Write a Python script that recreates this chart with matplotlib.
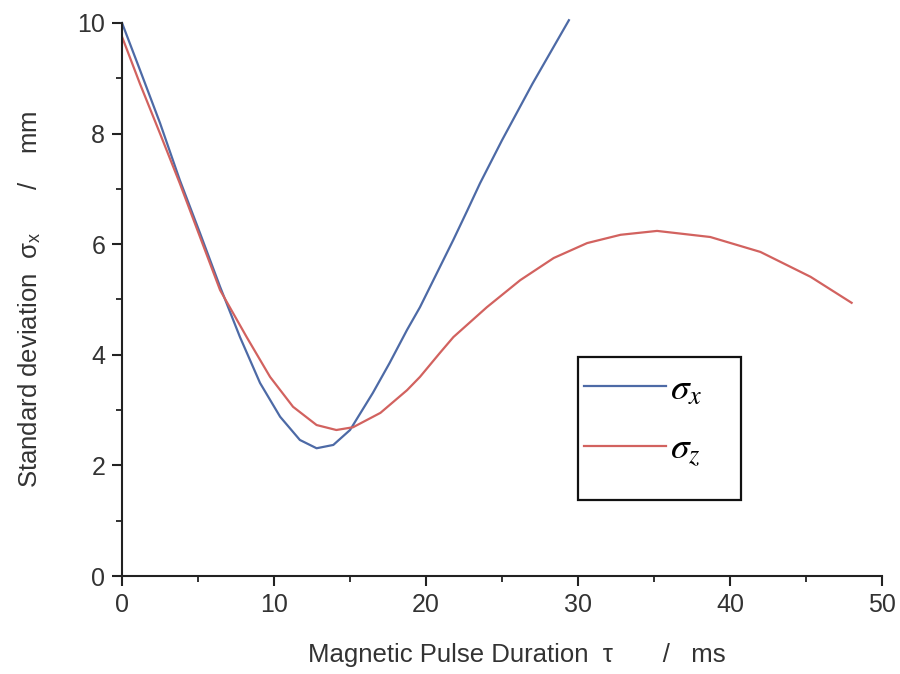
import matplotlib
matplotlib.use("Agg")
import matplotlib.pyplot as plt
from matplotlib.ticker import MultipleLocator
from matplotlib.patches import Rectangle

plt.rcParams['font.family'] = ['Liberation Sans', 'DejaVu Sans']
plt.rcParams['mathtext.fontset'] = 'stix'

# sigma_x (blue)
tau_x = [0.0, 1.18, 2.5, 3.8, 5.13, 6.45, 7.76, 9.08, 10.4, 11.7, 12.8, 13.9, 15.0, 16.5, 17.6,
         18.75, 19.6, 21.8, 22.7, 23.55, 25.0, 27.0, 29.4]
sig_x = [10.0, 9.15, 8.19, 7.16, 6.2, 5.23, 4.32, 3.49, 2.88, 2.46, 2.31, 2.37, 2.64, 3.31, 3.85,
         4.45, 4.86, 6.08, 6.6, 7.1, 7.88, 8.9, 10.05]

# sigma_z (red)
tau_z = [0.0, 1.18, 2.5, 3.8, 5.13, 6.45, 8.2, 9.74, 11.25, 12.8, 14.1, 15.2, 17.0, 18.75, 19.6,
         20.9, 21.8, 24.0, 26.2, 28.4, 30.6, 32.8, 35.2, 38.7, 42.0, 45.3, 48.0]
sig_z = [9.75, 8.9, 8.0, 7.1, 6.13, 5.17, 4.32, 3.6, 3.06, 2.73, 2.64, 2.69, 2.95, 3.36, 3.6,
         4.03, 4.32, 4.86, 5.35, 5.75, 6.02, 6.17, 6.24, 6.13, 5.86, 5.41, 4.94]

labels = [r'$\sigma_{x}$', r'$\sigma_{z}$']
x_ticks = [0, 10, 20, 30, 40, 50]
y_ticks = [0, 2, 4, 6, 8, 10]

fig = plt.figure(figsize=(9, 6.74), dpi=100)
ax = fig.add_axes([0.1356, 0.1454, 0.98 - 0.1356, 0.9659 - 0.1454])

blue = '#4d6aa6'
red = '#d2625f'
ax.plot(tau_x, sig_x, color=blue, lw=1.6, label=labels[0], clip_on=False, solid_joinstyle='round')
ax.plot(tau_z, sig_z, color=red, lw=1.6, label=labels[1], solid_joinstyle='round')

ax.set_xlim(0, 50)
ax.set_ylim(0, 10)
ax.set_xticks(x_ticks)
ax.set_yticks(y_ticks)
ax.xaxis.set_minor_locator(MultipleLocator(5))
ax.yaxis.set_minor_locator(MultipleLocator(1))

for s in ['top', 'right']:
    ax.spines[s].set_visible(False)
for s in ['left', 'bottom']:
    ax.spines[s].set_linewidth(1.5)
    ax.spines[s].set_color('#222222')

ax.tick_params(which='major', direction='out', length=7, width=1.5, colors='#222222',
               labelsize=18, labelcolor='#333333', pad=5)
ax.tick_params(which='minor', direction='out', length=4, width=1.3, colors='#222222')

ax.set_xlabel('Magnetic Pulse Duration  τ       /   ms', fontsize=18.5, color='#333333')
ax.xaxis.set_label_coords(0.52, -0.122)
ax.set_ylabel(r'Standard deviation  σ$_{\mathregular{x}}$      /    mm', fontsize=18.5,
              color='#333333', labelpad=25)

# legend box
ax.add_patch(Rectangle((0.6, 0.1374), 0.2145, 0.2586, transform=ax.transAxes,
                       fill=False, edgecolor='#111111', linewidth=1.6, zorder=5))
leg = ax.legend(loc='upper left', bbox_to_anchor=(0.6, 0.38), fontsize=27,
                frameon=False, handlelength=2.2, handletextpad=0.1,
                borderpad=0.15, labelspacing=0.62, borderaxespad=0)

fig.savefig('out.png', dpi=100, facecolor='white')
